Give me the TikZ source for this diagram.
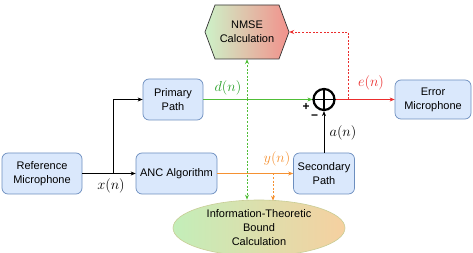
\documentclass[tikz,border=0pt]{standalone}
\usepackage{fontspec}
\setmainfont{Liberation Sans}
\usetikzlibrary{arrows.meta,shapes.geometric,calc}
\definecolor{boxfill}{RGB}{218,232,252}
\definecolor{boxline}{RGB}{108,142,191}
\definecolor{sigGreen}{RGB}{80,190,55}
\definecolor{lblGreen}{RGB}{40,160,40}
\definecolor{sigRed}{RGB}{235,45,45}
\definecolor{sigOrange}{RGB}{245,145,50}
\definecolor{hexGreen}{RGB}{205,242,200}
\definecolor{hexRed}{RGB}{242,145,140}
\definecolor{ellGreen}{RGB}{195,238,185}
\definecolor{ellOrange}{RGB}{246,208,160}
\definecolor{ellLine}{RGB}{200,205,150}
\tikzset{
  blockbox/.style={draw=boxline, fill=boxfill, rounded corners=6pt, line width=0.7pt,
    align=center, inner sep=0pt, font=\fontsize{11}{14}\selectfont},
  sig/.style={line width=0.8pt, -{Stealth[length=5pt,width=4pt]}},
  tap/.style={line width=0.8pt, dash pattern=on 2pt off 1.6pt, -{Stealth[length=5pt,width=4pt]}},
  siglabel/.style={font=\fontsize{14}{16}\selectfont, inner sep=0pt},
  sumsign/.style={font=\fontsize{12}{12}\selectfont\bfseries, inner sep=0pt}
}
\begin{document}
\begin{tikzpicture}[x=1pt, y=-1pt]
\useasboundingbox (0,0) rectangle (473,253);

% processing blocks
\node[blockbox, minimum width=80pt, minimum height=41pt] (ref) at (42,173.5) {Reference\\Microphone};
\node[blockbox, minimum width=81pt, minimum height=41pt] (anc) at (176.5,173.5) {ANC Algorithm};
\node[blockbox, minimum width=60pt, minimum height=41pt] (prim) at (173,99.5) {Primary\\Path};
\node[blockbox, minimum width=61pt, minimum height=41pt] (sec) at (324,173.5) {Secondary\\Path};
\node[blockbox, minimum width=76pt, minimum height=39pt] (err) at (433,99.5) {Error\\Microphone};

% summing junction
\node[circle, draw, line width=2.2pt, minimum size=21pt, inner sep=0pt] (sum) at (324,99.5) {};
\draw[line width=1.6pt] (sum.north) -- (sum.south) (sum.west) -- (sum.east);
\node[sumsign] (plus) at (306,107) {+};
\node[sumsign] (minus) at (314.5,117.5) {−};

% NMSE hexagon
\shade[left color=hexGreen, right color=hexRed, draw=black!80, line width=0.7pt]
  (205,32) -- (215,5) -- (279,5) -- (289,32) -- (279,59) -- (215,59) -- cycle;
\node[minimum width=84pt, minimum height=54pt, inner sep=0pt, align=center,
  font=\fontsize{11}{14}\selectfont] (nmse) at (247,32) {NMSE\\Calculation};

% information-theoretic bound ellipse
\node[ellipse, draw=ellLine, line width=0.6pt, left color=ellGreen, right color=ellOrange,
  minimum width=172pt, minimum height=56pt, inner sep=0pt, align=center,
  font=\fontsize{11}{14}\selectfont] (ib) at (259,228) {Information-Theoretic\\Bound\\Calculation};

% signal paths
\coordinate (br) at (113,173.5);
\draw[sig] (ref) -- (anc);
\draw[sig] (br) |- (prim.west);
\node[siglabel] (xl) at (111,186) {$x(n)$};

\draw[sig, draw=sigGreen, line width=1pt] (prim.east) -- (sum.west);
\node[siglabel, text=lblGreen] (dl) at (228,88) {$d(n)$};

\draw[sig, sigRed] (sum) -- (err);
\node[siglabel, text=sigRed] (el) at (371,83) {$e(n)$};

\draw[sig, sigOrange] (anc) -- (sec);
\node[siglabel, text=sigOrange] (yl) at (277,159) {$y(n)$};

\draw[sig] (sec) -- (sum);
\node[siglabel] (al) at (343,133) {$a(n)$};

% monitoring taps
\coordinate (etap) at (348,99.5);
\draw[tap, sigRed] (etap) |- (nmse.east);

\coordinate (dtap) at (247,99.5);
\draw[tap, sigGreen] (dtap) -- (nmse.south);
\draw[tap, sigGreen] (dtap) -- (dtap |- ib.north);

\coordinate (ytap) at (273,173.5);
\draw[tap, sigOrange] (ytap) -- ($(ytap |- ib.north)+(0,1)$);
\end{tikzpicture}
\end{document}
